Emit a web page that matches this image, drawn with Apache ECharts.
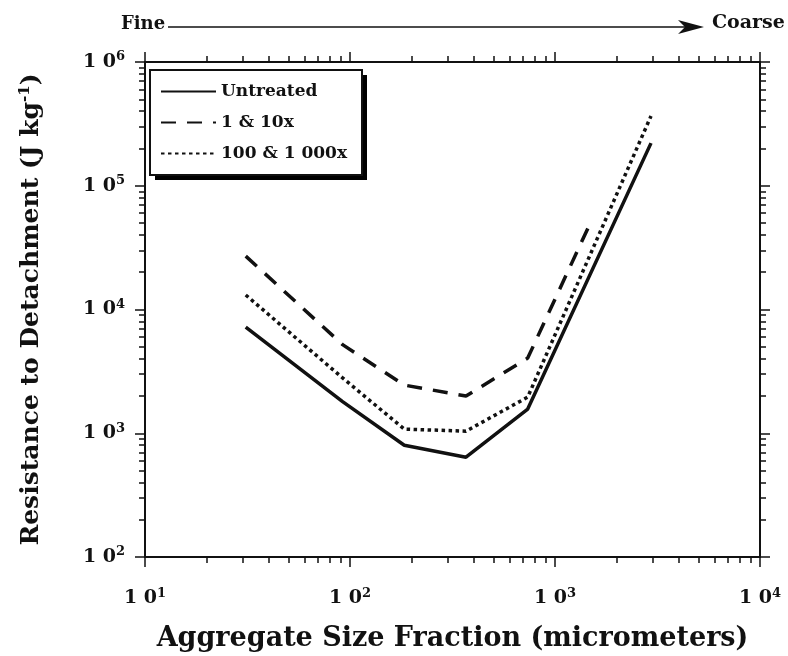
<!DOCTYPE html>
<html>
<head>
<meta charset="utf-8">
<script src="https://cdn.jsdelivr.net/npm/echarts@6/dist/echarts.min.js"></script>
<style>
  html, body { margin: 0; padding: 0; background: #fff; }
  #chart { width: 788px; height: 656px; }
</style>
</head>
<body>
<div id="chart"></div>
<script>
// aggregate size (micrometers) and resistance to detachment (J/kg)
var sizes = [31, 92, 184, 368, 736, 2940]
var sizesLow = [31, 92, 184, 368, 736, 1470]
var untreated = [7200, 1800, 800, 640, 1570, 221000]
var treat1and10 = [27000, 5200, 2450, 2000, 4050, 48000]
var treat100and1000 = [13100, 2800, 1080, 1040, 1960, 366000]
var seriesNames = ['Untreated', '1 & 10x', '100 & 1 000x']

var xMajor = [10, 100, 1000, 10000]
var yMajor = [100, 1000, 10000, 100000, 1000000]

function minors (majors) {
    var out = []
    for (var i = 0; i < majors.length - 1; i++) {
        for (var k = 2; k <= 9; k++) out.push(majors[i] * k)
    }
    return out
}

var font = 'DejaVu Serif'
var black = '#111'

function powLabel (v) {
    var e = Math.round(Math.log10(v))
    return '{b|1 0}{s|' + e + '}'
}
var labelRich = {
    b: { fontFamily: font, fontWeight: 'bold', fontSize: 19, color: black },
    s: { fontFamily: font, fontWeight: 'bold', fontSize: 13, color: black, verticalAlign: 'top', padding: [0, 0, 10, 0] }
}

function makeAxis (pos, min, max, vals, len, opts) {
    var a = {
        type: 'log',
        logBase: 10,
        position: pos,
        min: min,
        max: max,
        splitLine: { show: false },
        axisLine: { show: false, lineStyle: { color: black, width: 2 } },
        axisTick: { show: true, inside: false, length: len, customValues: vals, lineStyle: { color: black, width: 1.5 } },
        axisLabel: { show: false }
    }
    return Object.assign(a, opts || {})
}

var chart = echarts.init(document.getElementById('chart'))

var lineBase = { type: 'line', xAxisIndex: 0, yAxisIndex: 0, symbol: 'none', silent: true }

chart.setOption({
    backgroundColor: '#fff',
    animation: false,
    grid: { left: 145, right: 28, top: 62, bottom: 99, outerBoundsMode: 'none', containLabel: false },
    legend: {
        orient: 'vertical',
        left: 150,
        top: 70,
        z: 10,
        padding: [13, 10, 10, 10],
        itemWidth: 55,
        itemHeight: 14,
        itemGap: 14,
        itemStyle: { opacity: 0 },
        textStyle: { fontFamily: font, fontWeight: 'bold', fontSize: 17, color: black },
        data: seriesNames
    },
    xAxis: [
        makeAxis('bottom', 10, 10000, xMajor, 10, {
            axisLine: { show: true, lineStyle: { color: black, width: 2 } },
            axisLabel: { show: true, margin: 30, customValues: xMajor, formatter: powLabel, rich: labelRich },
            name: 'Aggregate Size Fraction (micrometers)',
            nameLocation: 'middle',
            nameGap: 68,
            nameTextStyle: { fontFamily: font, fontWeight: 'bold', fontSize: 27, color: black }
        }),
        makeAxis('bottom', 10, 10000, minors(xMajor), 6),
        makeAxis('top', 10, 10000, xMajor, 10, {
            axisLine: { show: true, lineStyle: { color: black, width: 2 } }
        }),
        makeAxis('top', 10, 10000, minors(xMajor), 6)
    ],
    yAxis: [
        makeAxis('left', 100, 1000000, yMajor, 10, {
            axisLine: { show: true, lineStyle: { color: black, width: 2 } },
            axisLabel: { show: true, margin: 20, customValues: yMajor, formatter: powLabel, rich: labelRich },
            name: '{n|Resistance to Detachment (J kg}{s|-1}{n|)}',
            nameLocation: 'middle',
            nameGap: 100,
            nameRotate: 90,
            nameTextStyle: {
                rich: {
                    n: { fontFamily: font, fontWeight: 'bold', fontSize: 25, color: black },
                    s: { fontFamily: font, fontWeight: 'bold', fontSize: 15, color: black, verticalAlign: 'top', padding: [0, 0, 12, 0] }
                }
            }
        }),
        makeAxis('left', 100, 1000000, minors(yMajor), 6),
        makeAxis('right', 100, 1000000, yMajor, 10, {
            axisLine: { show: true, lineStyle: { color: black, width: 2 } }
        }),
        makeAxis('right', 100, 1000000, minors(yMajor), 6)
    ],
    graphic: [
        { type: 'text', left: 121, top: 15, style: { text: 'Fine', fontFamily: font, fontWeight: 'bold', fontSize: 18, fill: black } },
        { type: 'line', shape: { x1: 168, y1: 27, x2: 690, y2: 27 }, style: { stroke: black, lineWidth: 1.5 } },
        { type: 'polygon', shape: { points: [[678, 20], [704, 27], [678, 34], [685, 27]] }, style: { fill: black } },
        { type: 'text', left: 712, top: 14, style: { text: 'Coarse', fontFamily: font, fontWeight: 'bold', fontSize: 19, fill: black } },
        // legend frame with drop shadow
        { type: 'rect', z: 1, shape: { x: 155, y: 75, width: 212, height: 105 }, style: { fill: '#000' } },
        { type: 'rect', z: 2, shape: { x: 150, y: 70, width: 212, height: 105 }, style: { fill: '#fff', stroke: black, lineWidth: 2 } }
    ],
    series: [
        Object.assign({}, lineBase, {
            name: seriesNames[0],
            data: sizes.map(function (s, i) { return [s, untreated[i]] }),
            lineStyle: { color: black, width: 3.5, type: 'solid' },
            itemStyle: { color: black }
        }),
        Object.assign({}, lineBase, {
            name: seriesNames[1],
            data: sizesLow.map(function (s, i) { return [s, treat1and10[i]] }),
            lineStyle: { color: black, width: 3.5, type: [15, 11] },
            itemStyle: { color: black }
        }),
        Object.assign({}, lineBase, {
            name: seriesNames[2],
            data: sizes.map(function (s, i) { return [s, treat100and1000[i]] }),
            lineStyle: { color: black, width: 3.5, type: [3.5, 3.5] },
            itemStyle: { color: black }
        })
    ]
})
</script>
</body>
</html>
